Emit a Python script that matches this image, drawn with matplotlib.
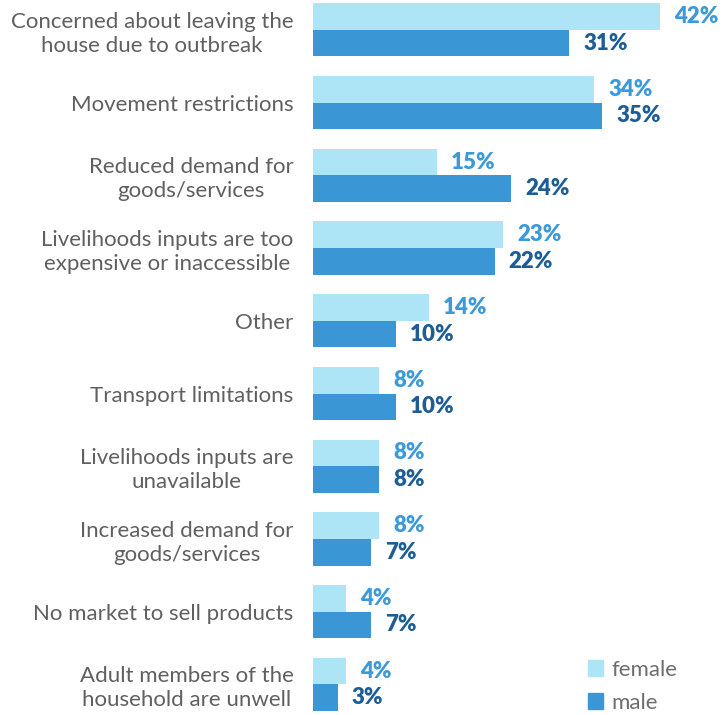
import matplotlib
matplotlib.use('Agg')
import matplotlib.pyplot as plt
import matplotlib.patches as mpatches
import numpy as np

# Reasons for livelihood disruption, by sex of respondent (%)
categories = [
    'Concerned about leaving the\nhouse due to outbreak',
    'Movement restrictions',
    'Reduced demand for\ngoods/services',
    'Livelihoods inputs are too\nexpensive or inaccessible',
    'Other',
    'Transport limitations',
    'Livelihoods inputs are\nunavailable',
    'Increased demand for\ngoods/services',
    'No market to sell products',
    'Adult members of the\nhousehold are unwell',
]
female = [42, 34, 15, 23, 14, 8, 8, 8, 4, 4]
male = [31, 35, 24, 22, 10, 10, 8, 7, 7, 3]

female_color = '#ADE4F6'
male_color = '#3A96D5'
female_text = '#3D9AD8'
male_text = '#1D5D96'
label_gray = '#606060'

fig = plt.figure(figsize=(7.26, 7.15), dpi=100, facecolor='white')
ax = fig.add_axes([313 / 726, 0, 413 / 726, 1])

y = np.arange(len(categories))
bar_h = 0.365

ax.barh(y - bar_h / 2, female, height=bar_h, color=female_color, label='female')
ax.barh(y + bar_h / 2, male, height=bar_h, color=male_color, label='male')

# value labels just past the bar ends
for yi, f, m in zip(y, female, male):
    ax.annotate(f'{f}%', (f, yi - bar_h / 2), xytext=(10, 0), textcoords='offset points',
                ha='left', va='center', fontsize=16, fontweight='heavy',
                color=female_text, family='Lato')
    ax.annotate(f'{m}%', (m, yi + bar_h / 2), xytext=(10, 0), textcoords='offset points',
                ha='left', va='center', fontsize=16, fontweight='heavy',
                color=male_text, family='Lato')

ax.set_xlim(0, 413 / 8.27)
ax.set_ylim(9.42, -0.41)

ax.set_yticks(y)
ax.set_yticklabels(categories)
ax.tick_params(axis='y', length=0, pad=14)
for lbl in ax.get_yticklabels():
    lbl.set_multialignment('center')
    lbl.set_fontsize(16)
    lbl.set_fontweight('normal')
    lbl.set_color(label_gray)
    lbl.set_family('Lato')
    lbl.set_linespacing(1.25)

ax.set_xticks([])
for s in ax.spines.values():
    s.set_visible(False)

handles = [mpatches.Patch(color=female_color, label='female'),
           mpatches.Patch(color=male_color, label='male')]
leg = ax.legend(handles=handles, loc='lower right', bbox_to_anchor=(0.93, -0.025),
                frameon=False, handlelength=0.7, handleheight=0.7,
                handletextpad=0.35, labelspacing=0.6,
                prop={'family': 'Lato', 'size': 16})
for t in leg.get_texts():
    t.set_color('#6E6E6E')

fig.savefig('out.png', dpi=100, facecolor='white')
